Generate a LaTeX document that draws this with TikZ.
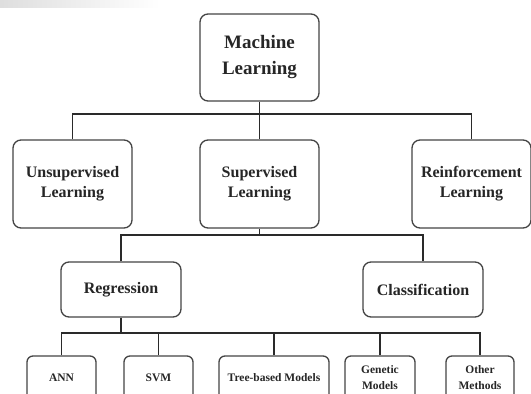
\documentclass[tikz,border=0pt]{standalone}
\usepackage{fontspec}
\setmainfont{Liberation Serif}
\definecolor{boxgray}{HTML}{444444}
\definecolor{linegray}{HTML}{2A2A2A}
\tikzset{
  box/.style={draw=boxgray, line width=1.3pt, rounded corners=8pt, fill=white,
    align=center, inner sep=0pt, text=black!85},
  toplvl/.style={box, minimum width=119pt, minimum height=87pt,
    font=\bfseries\fontsize{19}{26}\selectfont},
  midlvl/.style={box, minimum width=119pt, minimum height=88pt,
    font=\bfseries\fontsize{16}{20}\selectfont},
  tasklvl/.style={box, minimum width=120pt, minimum height=55pt,
    font=\bfseries\fontsize{16}{20}\selectfont},
  leaf/.style={box, minimum height=44pt, rounded corners=6pt,
    font=\bfseries\fontsize{11.5}{16}\selectfont},
  link/.style={draw=linegray, line width=1.6pt}
}
\begin{document}
\begin{tikzpicture}[x=1pt, y=-1pt]
\useasboundingbox (0,0) rectangle (531,394);
\clip (0,0) rectangle (531,394);

% faint grey band along the top edge
\shade[left color=black!13, right color=white] (0,0) rectangle (160,7);

% root
\node[toplvl] (ml) at (259.5,57.5) {Machine\\Learning};

% learning paradigms
\node[midlvl] (unsup) at (72.5,184) {Unsupervised\\Learning};
\node[midlvl] (sup)   at (259.5,184) {Supervised\\Learning};
\node[midlvl] (reinf) at (471.5,184) {Reinforcement\\Learning};

% supervised tasks
\node[tasklvl] (reg) at (121,289.5) {Regression};
\node[tasklvl] (cls) at (423,289.5) {Classification};

% model families
\node[leaf, minimum width=69pt]  (ann)   at (61.5,378)  {ANN};
\node[leaf, minimum width=69pt]  (svm)   at (158.5,378) {SVM};
\node[leaf, minimum width=110pt] (tree)  at (274,378)   {Tree-based Models};
\node[leaf, minimum width=70pt]  (gen)   at (380,378)   {Genetic\\Models};
\node[leaf, minimum width=68pt]  (other) at (480,378)   {Other\\Methods};

% bus lines
\coordinate (b1) at (259.5,114);
\coordinate (b2) at (259.5,235);
\coordinate (b3) at (121,333);

\draw[link] (ml.south) -- (sup.north);
\draw[link] (unsup.north) -- (unsup.north |- b1) -- (reinf.north |- b1) -- (reinf.north);

\draw[link] (sup.south) -- (b2);
\draw[link] (reg.north) -- (reg.north |- b2) -- (cls.north |- b2) -- (cls.north);

\draw[link] (reg.south) -- (b3);
\draw[link] (ann.north) -- (ann.north |- b3) -- (other.north |- b3) -- (other.north);
\draw[link] (svm.north) -- (svm.north |- b3);
\draw[link] (tree.north) -- (tree.north |- b3);
\draw[link] (gen.north) -- (gen.north |- b3);
\end{tikzpicture}
\end{document}
